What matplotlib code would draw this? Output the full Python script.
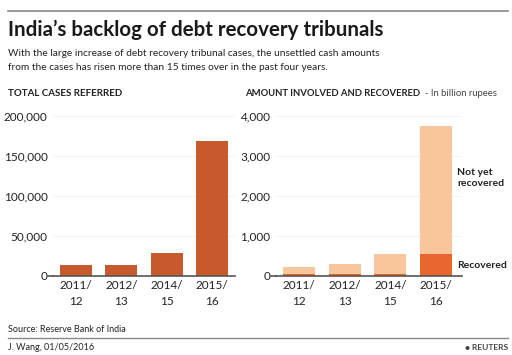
import matplotlib
matplotlib.use("Agg")
import matplotlib.pyplot as plt
from matplotlib.ticker import FuncFormatter

plt.rcParams['font.family'] = ['Lato', 'DejaVu Sans']

years = ["2011/\n12", "2012/\n13", "2014/\n15", "2015/\n16"]
cases = [13500, 13500, 28500, 169000]
amount_total = [235, 300, 550, 3760]
amount_recovered = [50, 50, 60, 540]

c_cases = "#c65a2c"
c_notyet = "#f9c69c"
c_recov = "#e9672f"
txt = "#222222"

W, H = 512, 355
fig = plt.figure(figsize=(W / 100, H / 100), dpi=100)


def px_axes(x0, y0, x1, y1):
    # pixel box, y measured from the top
    return fig.add_axes([x0 / W, 1 - y1 / H, (x1 - x0) / W, (y1 - y0) / H])


def hline(y, lw):
    fig.add_artist(plt.Line2D([8 / W, 508 / W], [1 - y / H, 1 - y / H],
                              color="#888888", lw=lw, transform=fig.transFigure))


def style(ax, top, step):
    for s in ["top", "right", "left"]:
        ax.spines[s].set_visible(False)
    ax.spines["bottom"].set_color("#555555")
    ax.spines["bottom"].set_linewidth(1.2)
    ax.set_ylim(0, top)
    ax.set_yticks(range(0, top + 1, step))
    ax.yaxis.set_major_formatter(FuncFormatter(lambda v, p: f"{int(v):,}"))
    ax.tick_params(axis="y", length=0, labelsize=8.5, labelcolor=txt, pad=4)
    ax.tick_params(axis="x", length=0, labelsize=8.5, labelcolor=txt, pad=3)
    ax.grid(axis="y", color="#f0f0f0", linewidth=0.6)
    ax.set_axisbelow(True)
    ax.set_xticks(range(len(years)))
    ax.set_xticklabels(years, linespacing=1.5)


# left panel
ax1 = px_axes(53, 116, 235, 276)
ax1.bar(range(len(years)), cases, width=0.7, color=c_cases)
ax1.set_xlim(-0.5, 3.5)
style(ax1, 200000, 50000)
# small tick mark at zero
ax1.plot([-0.62, -0.5], [0, 0], color="#555555", lw=1.2, clip_on=False)

# right panel
ax2 = px_axes(276, 116, 462, 276)
notyet = [t - r for t, r in zip(amount_total, amount_recovered)]
ax2.bar(range(len(years)), amount_recovered, width=0.7, color=c_recov)
ax2.bar(range(len(years)), notyet, bottom=amount_recovered, width=0.7, color=c_notyet)
ax2.set_xlim(-0.5, 3.57)
style(ax2, 4000, 1000)
ax2.plot([-0.6, -0.5], [0, 0], color="#555555", lw=1.2, clip_on=False)

# text
hline(11, 1.2)
fig.text(8 / W, 1 - 30 / H, "India\u2019s backlog of debt recovery tribunals", fontsize=14.8,
         fontweight="bold", color="#1a1a1a", va="center")
fig.text(8 / W, 1 - 54 / H,
         "With the large increase of debt recovery tribunal cases, the unsettled cash amounts",
         fontsize=7.3, color=txt, va="center")
fig.text(8 / W, 1 - 67 / H,
         "from the cases has risen more than 15 times over in the past four years.",
         fontsize=7.3, color=txt, va="center")
fig.text(8 / W, 1 - 94 / H, "TOTAL CASES REFERRED", fontsize=7, fontweight="bold",
         color=txt, va="center")
fig.text(245 / W, 1 - 94 / H, "AMOUNT INVOLVED AND RECOVERED", fontsize=6.8,
         fontweight="bold", color=txt, va="center")
fig.text(425 / W, 1 - 94 / H, "- In billion rupees", fontsize=6.8, color="#444444", va="center")
fig.text(457 / W, 1 - 178 / H, "Not yet\nrecovered", fontsize=7.5, fontweight="bold",
         color=txt, va="center", linespacing=1.2)
fig.text(457 / W, 1 - 266 / H, "Recovered", fontsize=7.5, fontweight="bold",
         color=txt, va="center")
fig.text(8 / W, 1 - 329 / H, "Source: Reserve Bank of India", fontsize=6.5, color=txt, va="center")
hline(338, 1)
fig.text(8 / W, 1 - 347 / H, "J. Wang, 01/05/2016", fontsize=6.5, color=txt, va="center")
fig.text(508 / W, 1 - 347 / H, "\u25cf REUTERS", fontsize=6, fontweight="bold",
         color="#444444", va="center", ha="right")

fig.savefig("out.png", dpi=100, facecolor="white")
